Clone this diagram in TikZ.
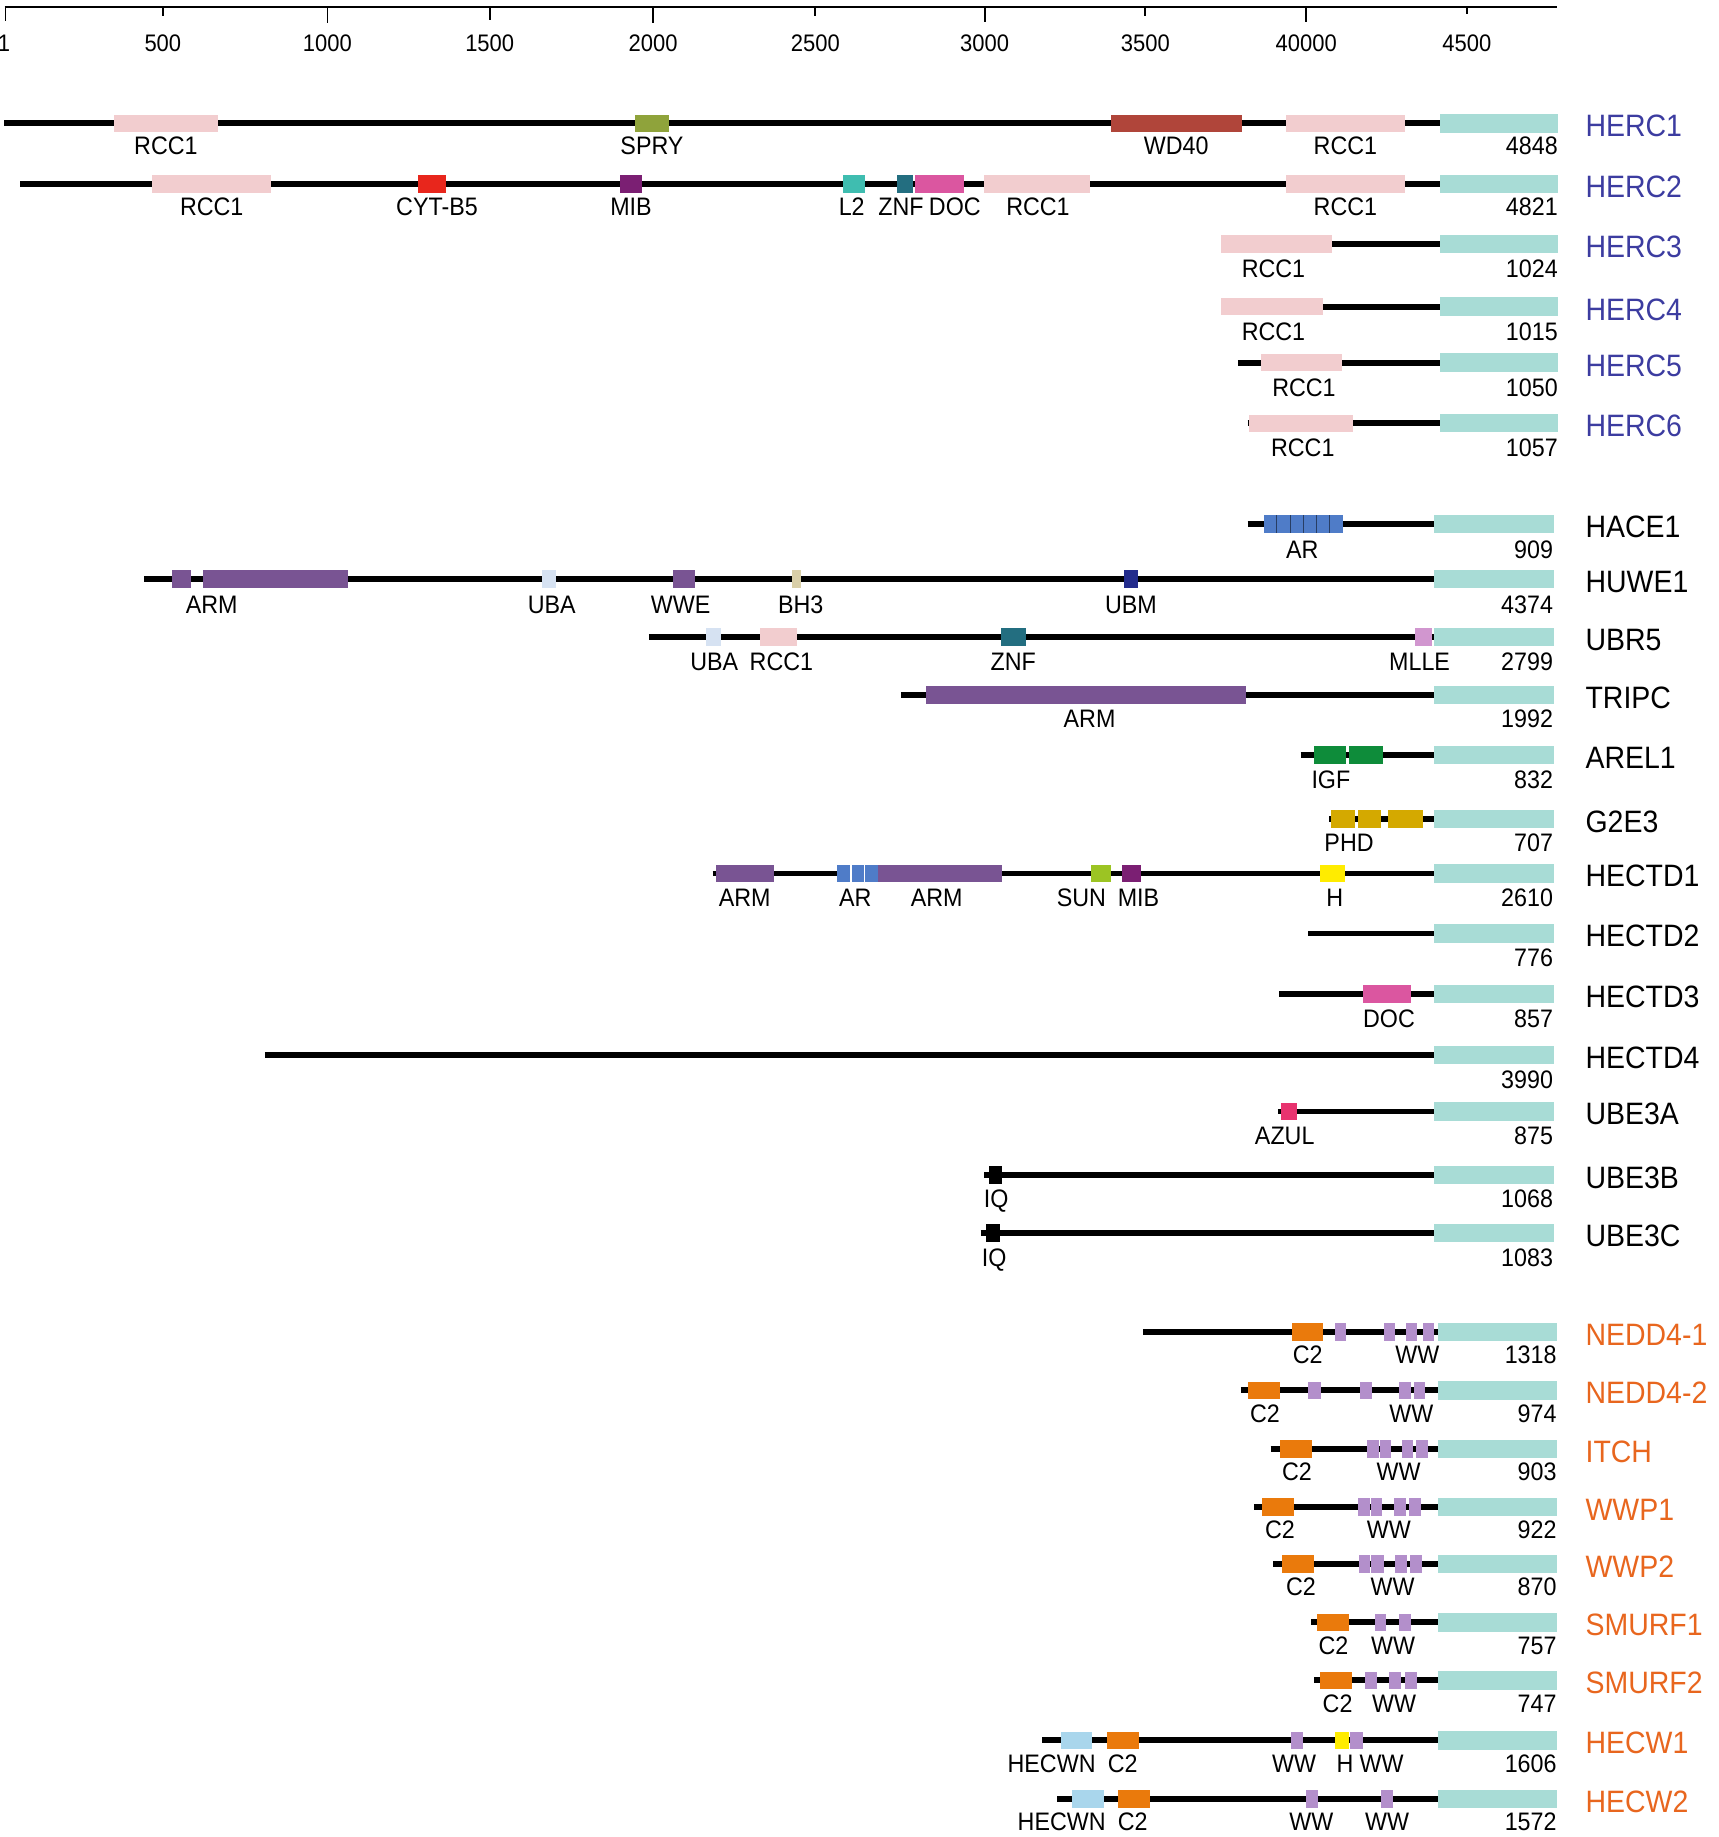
\documentclass[tikz,border=0pt]{standalone}
\usepackage{fontspec}
\setmainfont{Liberation Sans}[FakeStretch=0.92]
\definecolor{rcc}{HTML}{F2CDCF}
\definecolor{hect}{HTML}{A8DCD6}
\definecolor{spry}{HTML}{8FA33B}
\definecolor{wd}{HTML}{B0453A}
\definecolor{cyt}{HTML}{E8261C}
\definecolor{mib}{HTML}{7B1F73}
\definecolor{ltwo}{HTML}{3FBDB0}
\definecolor{znf}{HTML}{236E80}
\definecolor{doc}{HTML}{DB56A0}
\definecolor{ar}{HTML}{4F7CC8}
\definecolor{arm}{HTML}{795493}
\definecolor{uba}{HTML}{D6E2F2}
\definecolor{bh}{HTML}{D9CFA8}
\definecolor{ubm}{HTML}{232C8C}
\definecolor{mlle}{HTML}{D196CF}
\definecolor{igf}{HTML}{0E8C3A}
\definecolor{phd}{HTML}{D4A900}
\definecolor{sun}{HTML}{9CC423}
\definecolor{hyel}{HTML}{FFEC00}
\definecolor{azul}{HTML}{E8336F}
\definecolor{ctwo}{HTML}{EA7A0C}
\definecolor{ww}{HTML}{B38FCB}
\definecolor{hecwn}{HTML}{A9D6EC}
\definecolor{hercc}{HTML}{3C3CA0}
\definecolor{neddc}{HTML}{E8661E}
\newcommand{\pdom}[4]{\fill[#4] (#1,#3-7.5) rectangle (#2,#3+7.5);}
\newcommand{\plab}[4]{\node[lab] (#1) at (#2,#3+\labdy) {#4};}
\newcommand{\prow}[8]{%
  \coordinate (#1-s) at (#2,#3);
  \coordinate (#1-e) at (#4,#3);
  \draw[bb] (#1-s) -- (#1-e);
  \fill[hect] (#4,#3-7.8) rectangle (#5,#3+7.8);
  \node[num] (#1-len) at (#5,#3+\labdy) {#6};
  \node[gname,text=#8] (#1-name) at (1353,#3+2) {#7};}
\begin{document}
\begin{tikzpicture}[x=0.5pt,y=-0.5pt,
  bb/.style={line width=2.5pt, black},
  lab/.style={font=\fontsize{10.8}{13}\selectfont, inner sep=0pt, text height=7.7pt, text depth=0pt, anchor=center},
  num/.style={font=\fontsize{10.8}{13}\selectfont, inner sep=0pt, text height=7.7pt, text depth=0pt, anchor=east},
  gname/.style={font=\fontsize{13.2}{16}\selectfont, inner sep=0pt, text height=9.45pt, text depth=0pt, anchor=west},
  axl/.style={font=\fontsize{10.2}{12}\selectfont, inner sep=0pt, text height=7.3pt, text depth=0pt},
  tick/.style={line width=0.8pt}]
\useasboundingbox (0,0) rectangle (1467,1568);
% axis
\coordinate (ax0) at (4,6.3);
\coordinate (ax1) at (1329,6.3);
\draw[tick] (ax0) -- (ax1);
\foreach \x/\t in {4.7/12, 139/7, 279.5/13.4, 418/10.5, 557.5/13.4, 696/7.7, 840.5/12.5, 977.6/7.7, 1115/12.5, 1252/5.7}{
  \draw[tick] (\x,6.3) -- (\x,6.3+\t);
}
\foreach \x/\l [count=\i] in {3.5/1, 139/500, 279.5/1000, 418/1500, 557.5/2000, 696/2500, 840.5/3000, 977.6/3500, 1115/40000, 1252/4500}{
  \node[axl] (axl\i) at (\x,36.4) {\l};
}
% ---------------- HERC group
\def\labdy{19}
\prow{herc1}{3.7}{105.3}{1229}{1330}{4848}{HERC1}{hercc}
\pdom{97}{186.3}{105.3}{rcc}
\pdom{541.7}{571.2}{105.3}{spry}
\pdom{948}{1059.8}{105.3}{wd}
\pdom{1097.6}{1199.1}{105.3}{rcc}
\plab{h1a}{141.6}{105.3}{RCC1}
\plab{h1b}{556.5}{105.3}{SPRY}
\plab{h1c}{1004}{105.3}{WD40}
\plab{h1d}{1148.4}{105.3}{RCC1}

\prow{herc2}{17.3}{157.3}{1229}{1330}{4821}{HERC2}{hercc}
\pdom{129.7}{231.7}{157.3}{rcc}
\pdom{357.2}{380.6}{157.3}{cyt}
\pdom{529}{548.2}{157.3}{mib}
\pdom{719.6}{738.6}{157.3}{ltwo}
\pdom{765.7}{779.7}{157.3}{znf}
\pdom{780.6}{822.7}{157.3}{doc}
\pdom{840}{930.7}{157.3}{rcc}
\pdom{1097.6}{1199.1}{157.3}{rcc}
\plab{h2a}{180.7}{157.3}{RCC1}
\plab{h2b}{373}{157.3}{CYT-B5}
\plab{h2c}{538.6}{157.3}{MIB}
\plab{h2d}{727}{157.3}{L2}
\plab{h2e}{769}{157.3}{ZNF}
\plab{h2f}{815}{157.3}{DOC}
\plab{h2g}{886}{157.3}{RCC1}
\plab{h2h}{1148.4}{157.3}{RCC1}

\def\labdy{21}
\prow{herc3}{1042.5}{208.2}{1229}{1330}{1024}{HERC3}{hercc}
\pdom{1042.5}{1136.9}{208.2}{rcc}
\plab{h3a}{1087}{208.2}{RCC1}

\prow{herc4}{1042.5}{261.7}{1229}{1330}{1015}{HERC4}{hercc}
\pdom{1042.5}{1129.4}{261.7}{rcc}
\plab{h4a}{1087}{261.7}{RCC1}

\prow{herc5}{1056.5}{309.5}{1229}{1330}{1050}{HERC5}{hercc}
\pdom{1076.6}{1145.3}{309.5}{rcc}
\plab{h5a}{1113}{309.5}{RCC1}

\prow{herc6}{1064.9}{361.3}{1229}{1330}{1057}{HERC6}{hercc}
\pdom{1065.8}{1154.7}{361.3}{rcc}
\plab{h6a}{1112}{361.3}{RCC1}

% ---------------- middle group
\def\labdy{21.5}
\prow{hace1}{1064.9}{447.2}{1224}{1326}{909}{HACE1}{black}
\pdom{1078.5}{1146.2}{447.2}{ar}
\foreach \k in {1,...,5}{\draw[line width=0.3pt, ar!50!black] (1078.5+\k*11.28,447.2-7.5) -- (1078.5+\k*11.28,447.2+7.5);}
\plab{ha1}{1111.6}{447.2}{AR}

\prow{huwe1}{123.1}{494.4}{1224}{1326}{4374}{HUWE1}{black}
\pdom{146.5}{162.9}{494.4}{arm}
\pdom{173.2}{296.8}{494.4}{arm}
\pdom{463}{474.7}{494.4}{uba}
\pdom{574.4}{593.6}{494.4}{arm}
\pdom{675.6}{683.5}{494.4}{bh}
\pdom{959.7}{971.4}{494.4}{ubm}
\plab{hu1}{180.7}{494.4}{ARM}
\plab{hu2}{471}{494.4}{UBA}
\plab{hu3}{581}{494.4}{WWE}
\plab{hu4}{683.5}{494.4}{BH3}
\plab{hu5}{965.3}{494.4}{UBM}

\def\labdy{20.5}
\prow{ubr5}{553.8}{543.9}{1224}{1326}{2799}{UBR5}{black}
\pdom{603}{615.2}{543.9}{uba}
\pdom{648.4}{680.2}{543.9}{rcc}
\pdom{854.5}{875.6}{543.9}{znf}
\pdom{1208}{1222.4}{543.9}{mlle}
\plab{ub1}{609.6}{543.9}{UBA}
\plab{ub2}{667}{543.9}{RCC1}
\plab{ub3}{864.8}{543.9}{ZNF}
\plab{ub4}{1211.7}{543.9}{MLLE}

\prow{tripc}{769}{593.1}{1224}{1326}{1992}{TRIPC}{black}
\pdom{790}{1063.5}{593.1}{arm}
\plab{tr1}{930}{593.1}{ARM}

\prow{arel1}{1110.2}{644.6}{1224}{1326}{832}{AREL1}{black}
\pdom{1121.9}{1149}{644.6}{igf}
\pdom{1151.4}{1180.4}{644.6}{igf}
\plab{ar1}{1136}{644.6}{IGF}

\prow{g2e3}{1134.4}{698.9}{1224}{1326}{707}{G2E3}{black}
\pdom{1136.2}{1156.3}{698.9}{phd}
\pdom{1158.8}{1178.9}{698.9}{phd}
\pdom{1185}{1214.2}{698.9}{phd}
\plab{g21}{1151.5}{698.9}{PHD}

\prow{hectd1}{608.2}{745.6}{1224}{1326}{2610}{HECTD1}{black}
\pdom{611.3}{660.6}{745.6}{arm}
\pdom{714.8}{749.5}{745.6}{ar}
\foreach \k in {1,2}{\draw[line width=0.5pt, white] (714.8+\k*11.57,745.6-7.5) -- (714.8+\k*11.57,745.6+7.5);}
\pdom{749.5}{854.9}{745.6}{arm}
\pdom{931.6}{948}{745.6}{sun}
\pdom{957.8}{974.2}{745.6}{mib}
\pdom{1127.1}{1148.4}{745.6}{hyel}
\plab{hd1}{635.6}{745.6}{ARM}
\plab{hd2}{730}{745.6}{AR}
\plab{hd3}{799.5}{745.6}{ARM}
\plab{hd4}{923.1}{745.6}{SUN}
\plab{hd5}{971.8}{745.6}{MIB}
\plab{hd6}{1139.3}{745.6}{H}

\prow{hectd2}{1116.8}{796.8}{1224}{1326}{776}{HECTD2}{black}

\prow{hectd3}{1091.8}{848.5}{1224}{1326}{857}{HECTD3}{black}
\pdom{1163}{1204.5}{848.5}{doc}
\plab{hd31}{1185.6}{848.5}{DOC}

\prow{hectd4}{226.1}{900.5}{1224}{1326}{3990}{HECTD4}{black}

\prow{ube3a}{1090.8}{948.7}{1224}{1326}{875}{UBE3A}{black}
\pdom{1093.3}{1107.4}{948.7}{azul}
\plab{u3a1}{1096.6}{948.7}{AZUL}

\prow{ube3b}{840.3}{1002.7}{1224}{1326}{1068}{UBE3B}{black}
\pdom{844.5}{855.2}{1002.7}{black}
\plab{u3b1}{850.3}{1002.7}{IQ}

\prow{ube3c}{837}{1052.5}{1224}{1326}{1083}{UBE3C}{black}
\pdom{842}{853.6}{1052.5}{black}
\plab{u3c1}{848.6}{1052.5}{IQ}

% ---------------- NEDD4 group
\def\labdy{19.5}
\prow{nedd41}{975.4}{1137}{1227}{1329}{1318}{NEDD4-1}{neddc}
\pdom{1102.4}{1129.3}{1137}{ctwo}
\pdom{1139.2}{1149}{1137}{ww}
\pdom{1181}{1190.9}{1137}{ww}
\pdom{1200}{1209.8}{1137}{ww}
\pdom{1214.2}{1224}{1137}{ww}
\plab{n11}{1116.2}{1137}{C2}
\plab{n12}{1209.8}{1137}{WW}

\prow{nedd42}{1059.1}{1186.8}{1227}{1329}{974}{NEDD4-2}{neddc}
\pdom{1065.3}{1092.6}{1186.8}{ctwo}
\pdom{1116.6}{1127.5}{1186.8}{ww}
\pdom{1161}{1171.2}{1186.8}{ww}
\pdom{1194.5}{1204.7}{1186.8}{ww}
\pdom{1206.5}{1216.7}{1186.8}{ww}
\plab{n21}{1079.8}{1186.8}{C2}
\plab{n22}{1204.7}{1186.8}{WW}

\prow{itch}{1084.6}{1236.8}{1227}{1329}{903}{ITCH}{neddc}
\pdom{1092.6}{1119.5}{1236.8}{ctwo}
\pdom{1166.5}{1177}{1236.8}{ww}
\pdom{1177.6}{1187.6}{1236.8}{ww}
\pdom{1196.3}{1206.2}{1236.8}{ww}
\pdom{1208.7}{1218.5}{1236.8}{ww}
\plab{it1}{1107.1}{1236.8}{C2}
\plab{it2}{1193.8}{1236.8}{WW}

\prow{wwp1}{1070.7}{1286.3}{1227}{1329}{922}{WWP1}{neddc}
\pdom{1076.9}{1104.2}{1286.3}{ctwo}
\pdom{1158.8}{1169}{1286.3}{ww}
\pdom{1169.8}{1180}{1286.3}{ww}
\pdom{1189.8}{1200}{1286.3}{ww}
\pdom{1202.5}{1212.7}{1286.3}{ww}
\plab{w11}{1092.6}{1286.3}{C2}
\plab{w12}{1185.4}{1286.3}{WW}

\prow{wwp2}{1087}{1335}{1227}{1329}{870}{WWP2}{neddc}
\pdom{1094.4}{1121.8}{1335}{ctwo}
\pdom{1159.7}{1169.5}{1335}{ww}
\pdom{1170.3}{1180.9}{1335}{ww}
\pdom{1190.6}{1201.2}{1335}{ww}
\pdom{1203.2}{1213.7}{1335}{ww}
\plab{w21}{1110.4}{1335}{C2}
\plab{w22}{1188.7}{1335}{WW}

\prow{smurf1}{1119.4}{1384.8}{1227}{1329}{757}{SMURF1}{neddc}
\pdom{1124.1}{1151.5}{1384.8}{ctwo}
\pdom{1173.4}{1183.2}{1384.8}{ww}
\pdom{1194.2}{1204.3}{1384.8}{ww}
\plab{s11}{1138.2}{1384.8}{C2}
\plab{s12}{1189.1}{1384.8}{WW}

\prow{smurf2}{1121.8}{1434.3}{1227}{1329}{747}{SMURF2}{neddc}
\pdom{1126.5}{1153.9}{1434.3}{ctwo}
\pdom{1164.8}{1175}{1434.3}{ww}
\pdom{1185.6}{1196.1}{1434.3}{ww}
\pdom{1199.6}{1209.8}{1434.3}{ww}
\plab{s21}{1141.7}{1434.3}{C2}
\plab{s22}{1189.9}{1434.3}{WW}

\prow{hecw1}{889.8}{1485.5}{1227}{1329}{1606}{HECW1}{neddc}
\pdom{905.4}{932}{1485.5}{hecwn}
\pdom{944.6}{971.9}{1485.5}{ctwo}
\pdom{1101.8}{1112}{1485.5}{ww}
\pdom{1139.4}{1151.5}{1485.5}{hyel}
\pdom{1152.3}{1163.3}{1485.5}{ww}
\plab{hw11}{897.6}{1485.5}{HECWN}
\plab{hw12}{958.3}{1485.5}{C2}
\plab{hw13}{1104.6}{1485.5}{WW}
\plab{hw14}{1148}{1485.5}{H}
\plab{hw15}{1179.3}{1485.5}{WW}

\prow{hecw2}{902.3}{1535.5}{1227}{1329}{1572}{HECW2}{neddc}
\pdom{914.8}{942.2}{1535.5}{hecwn}
\pdom{954.3}{981.3}{1535.5}{ctwo}
\pdom{1115.1}{1125.3}{1535.5}{ww}
\pdom{1178.9}{1189.1}{1535.5}{ww}
\plab{hw21}{906.2}{1535.5}{HECWN}
\plab{hw22}{966.9}{1535.5}{C2}
\plab{hw23}{1119.4}{1535.5}{WW}
\plab{hw24}{1184}{1535.5}{WW}
\end{tikzpicture}
\end{document}
